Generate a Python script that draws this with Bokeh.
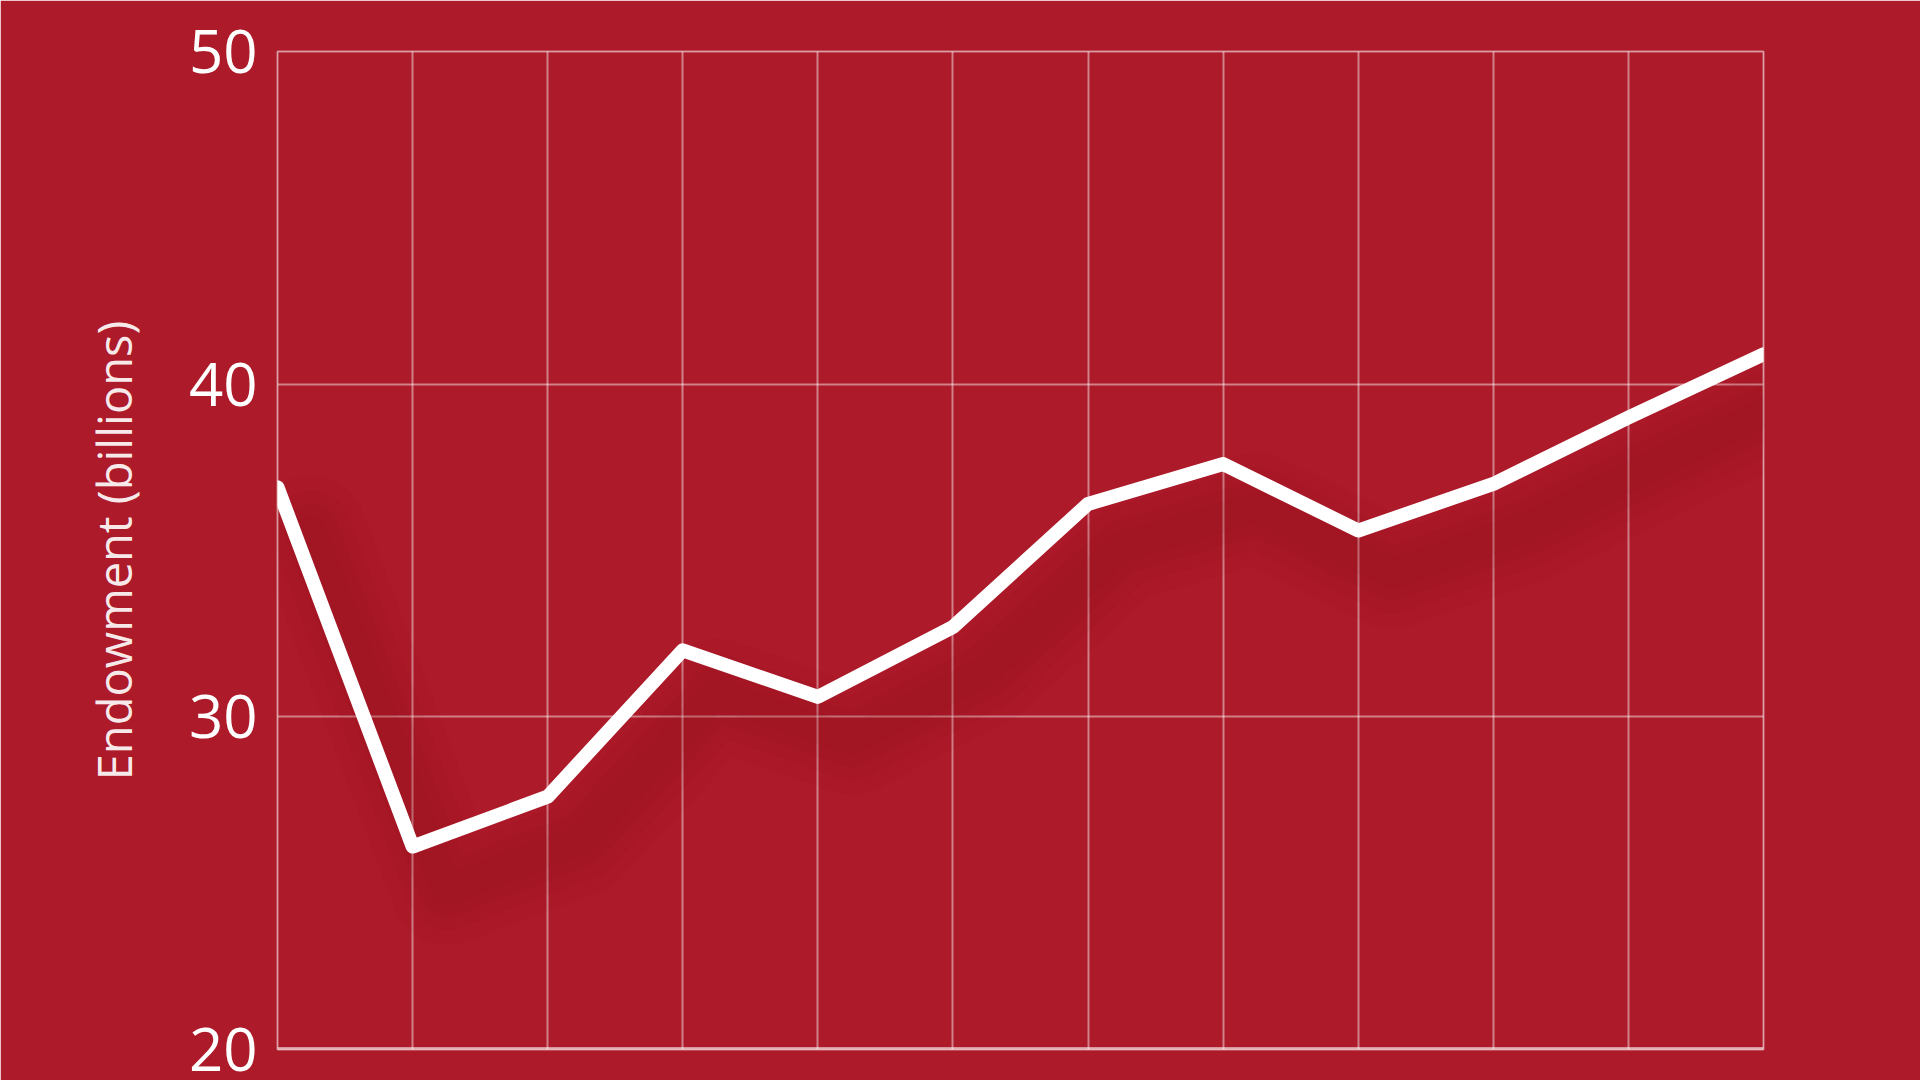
from bokeh.plotting import figure
from bokeh.models import FixedTicker, Range1d, Span
from bokeh.embed import file_html
from bokeh.resources import INLINE

years = [2008, 2009, 2010, 2011, 2012, 2013, 2014, 2015, 2016, 2017, 2018, 2019]
endowment = [36.9, 26.1, 27.6, 32.0, 30.6, 32.7, 36.4, 37.6, 35.6, 37.0, 39.0, 40.9]
y_ticks = [20, 30, 40, 50]
y_label = "Endowment (billions)"

BG = "#AD1A29"
SHADOW = "#7E0A16"
GRID = "#FFFFFF"

p = figure(width=1920, height=1080, output_backend="svg", toolbar_location=None,
           x_range=Range1d(years[0], years[-1]), y_range=Range1d(y_ticks[0], y_ticks[-1]),
           min_border_left=277, min_border_right=157, min_border_top=51, min_border_bottom=31)
p.background_fill_color = BG
p.border_fill_color = BG
p.outline_line_color = GRID
p.outline_line_alpha = 0.45
p.outline_line_width = 2

# soft shadow under the line (layered translucent strokes, shifted down/right)
sx = [x + 0.25 for x in years]
sy = [v - 1.3 for v in endowment]
for w, a in [(110, 0.04), (80, 0.05), (54, 0.06), (30, 0.07)]:
    p.line(sx, sy, line_color=SHADOW, line_width=w, line_alpha=a,
           line_join="round", line_cap="round")

# bottom baseline (thicker)
p.add_layout(Span(location=y_ticks[0], dimension="width", line_color=GRID,
                  line_alpha=0.55, line_width=5))

p.line(years, endowment, line_color="white", line_width=14,
       line_join="round", line_cap="round")

p.xaxis.visible = False
p.yaxis.ticker = FixedTicker(ticks=y_ticks)
p.xgrid.ticker = FixedTicker(ticks=years)
p.ygrid.ticker = FixedTicker(ticks=y_ticks)
for g in (p.xgrid, p.ygrid):
    g.grid_line_color = GRID
    g.grid_line_alpha = 0.45
    g.grid_line_width = 2

p.yaxis.axis_line_color = None
p.yaxis.major_tick_line_color = None
p.yaxis.minor_tick_line_color = None
p.yaxis.major_label_text_font = "Open Sans"
p.yaxis.major_label_text_font_size = "60px"
p.yaxis.major_label_text_color = "white"
p.yaxis.major_label_standoff = 14
p.yaxis.axis_label = y_label
p.yaxis.axis_label_text_font = "Open Sans"
p.yaxis.axis_label_text_font_style = "normal"
p.yaxis.axis_label_text_font_size = "47px"
p.yaxis.axis_label_text_color = "white"
p.yaxis.axis_label_text_alpha = 0.92
p.yaxis.axis_label_standoff = 40

open("out.html", "w").write(file_html(p, INLINE))
